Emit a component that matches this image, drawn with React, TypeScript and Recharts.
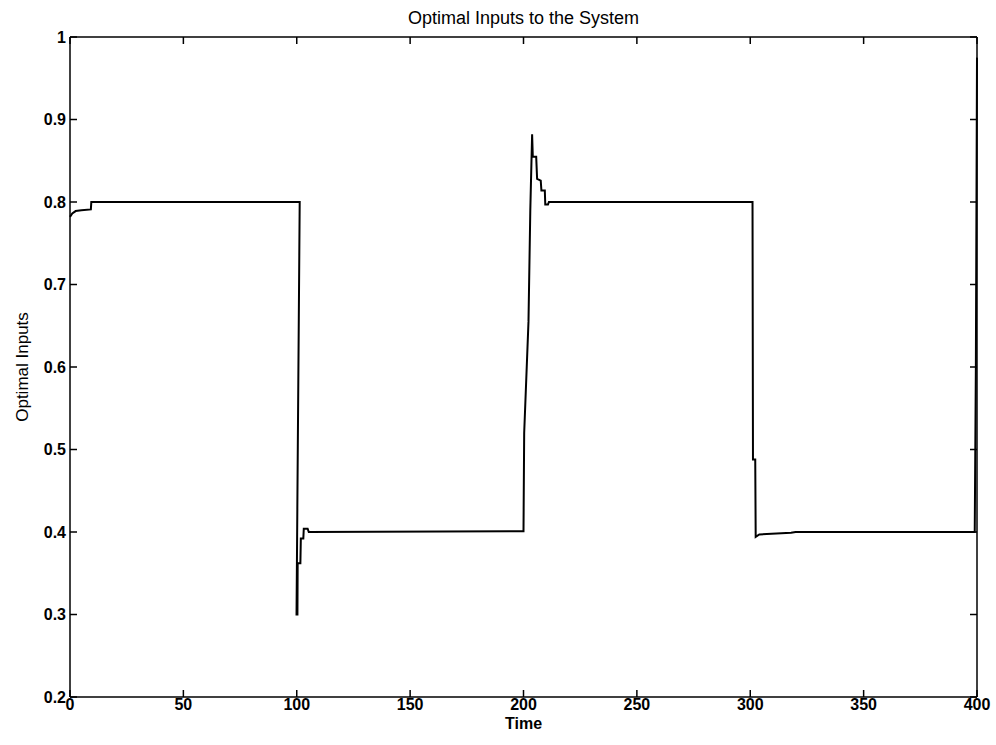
import { LineChart, Line, XAxis, YAxis } from 'recharts';

// time samples and optimal input values
const timeValues = [
  0, 1, 2.5, 5, 9.2, 9.4,
  101.3, 99.9, 100.3, 100.4, 101.6, 101.8, 102.9, 103.1, 104.8, 105.3,
  200.0, 200.3, 202.2, 203.0, 203.8, 204.1, 205.6, 206.0, 207.6, 207.9, 209.4, 209.6, 210.8, 211.2,
  301.0, 301.2, 302.2, 302.4, 304.0, 318.0, 320.0,
  399.0, 399.5, 400.0,
];
const inputValues = [
  0.782, 0.786, 0.789, 0.79, 0.791, 0.8,
  0.8, 0.3, 0.3, 0.362, 0.362, 0.392, 0.392, 0.404, 0.404, 0.4,
  0.401, 0.52, 0.655, 0.79, 0.882, 0.855, 0.855, 0.828, 0.826, 0.814, 0.814, 0.797, 0.797, 0.8,
  0.8, 0.488, 0.488, 0.394, 0.397, 0.399, 0.4,
  0.4, 0.6, 0.975,
];
const xTicks = [0, 50, 100, 150, 200, 250, 300, 350, 400];
const yTicks = [0.2, 0.3, 0.4, 0.5, 0.6, 0.7, 0.8, 0.9, 1];

const data = timeValues.map((t, i) => ({ t, u: inputValues[i] }));

const fmtY = (v: number) => (v === 1 ? '1' : v.toFixed(1));
const tickStyle = { fill: '#000', fontSize: 16, fontWeight: 'bold' as const };
const noLabel = () => <g />;

export default function App() {
  return (
    <div style={{ position: 'absolute', left: 0, top: 0, width: 996, height: 745, background: '#fff', fontFamily: '"Liberation Sans", Arial, sans-serif' }}>
      <LineChart width={996} height={745} data={data} margin={{ top: 36, right: 18, bottom: 0, left: 0 }}>
        <XAxis
          xAxisId="b" dataKey="t" type="number" domain={[0, 400]} ticks={xTicks} interval={0}
          height={48} tickSize={-7} tickMargin={9} stroke="#000" strokeWidth={1.5} tick={tickStyle}
          label={{ value: 'Time', position: 'insideBottom', offset: 16, fill: '#000', fontSize: 16, fontWeight: 'bold' }}
        />
        <XAxis
          xAxisId="top" orientation="top" dataKey="t" type="number" domain={[0, 400]} ticks={xTicks} interval={0}
          height={1} tickSize={-7} stroke="#000" strokeWidth={1.5} tick={noLabel}
          label={{ value: 'Optimal Inputs to the System', position: 'top', offset: 12, fill: '#000', fontSize: 18 }}
        />
        <YAxis
          yAxisId="l" type="number" domain={[0.2, 1]} ticks={yTicks} interval={0} tickFormatter={fmtY}
          width={70} tickSize={-7} tickMargin={11} stroke="#000" strokeWidth={1.5} tick={tickStyle}
          label={{ value: 'Optimal Inputs', angle: -90, position: 'insideLeft', offset: 22, fill: '#000', fontSize: 17, style: { textAnchor: 'middle' } }}
        />
        <YAxis
          yAxisId="r" orientation="right" type="number" domain={[0.2, 1]} ticks={yTicks} interval={0}
          width={1} tickSize={-7} stroke="#000" strokeWidth={1.5} tick={noLabel}
        />
        {/* invisible copy so the top / right frame axes get drawn */}
        <Line
          xAxisId="top" yAxisId="r" type="linear" dataKey="u" stroke="none" strokeOpacity={0}
          dot={false} activeDot={false} isAnimationActive={false}
        />
        <Line
          xAxisId="b" yAxisId="l" type="linear" dataKey="u" stroke="#000" strokeWidth={2}
          dot={false} activeDot={false} isAnimationActive={false}
        />
      </LineChart>
    </div>
  );
}
